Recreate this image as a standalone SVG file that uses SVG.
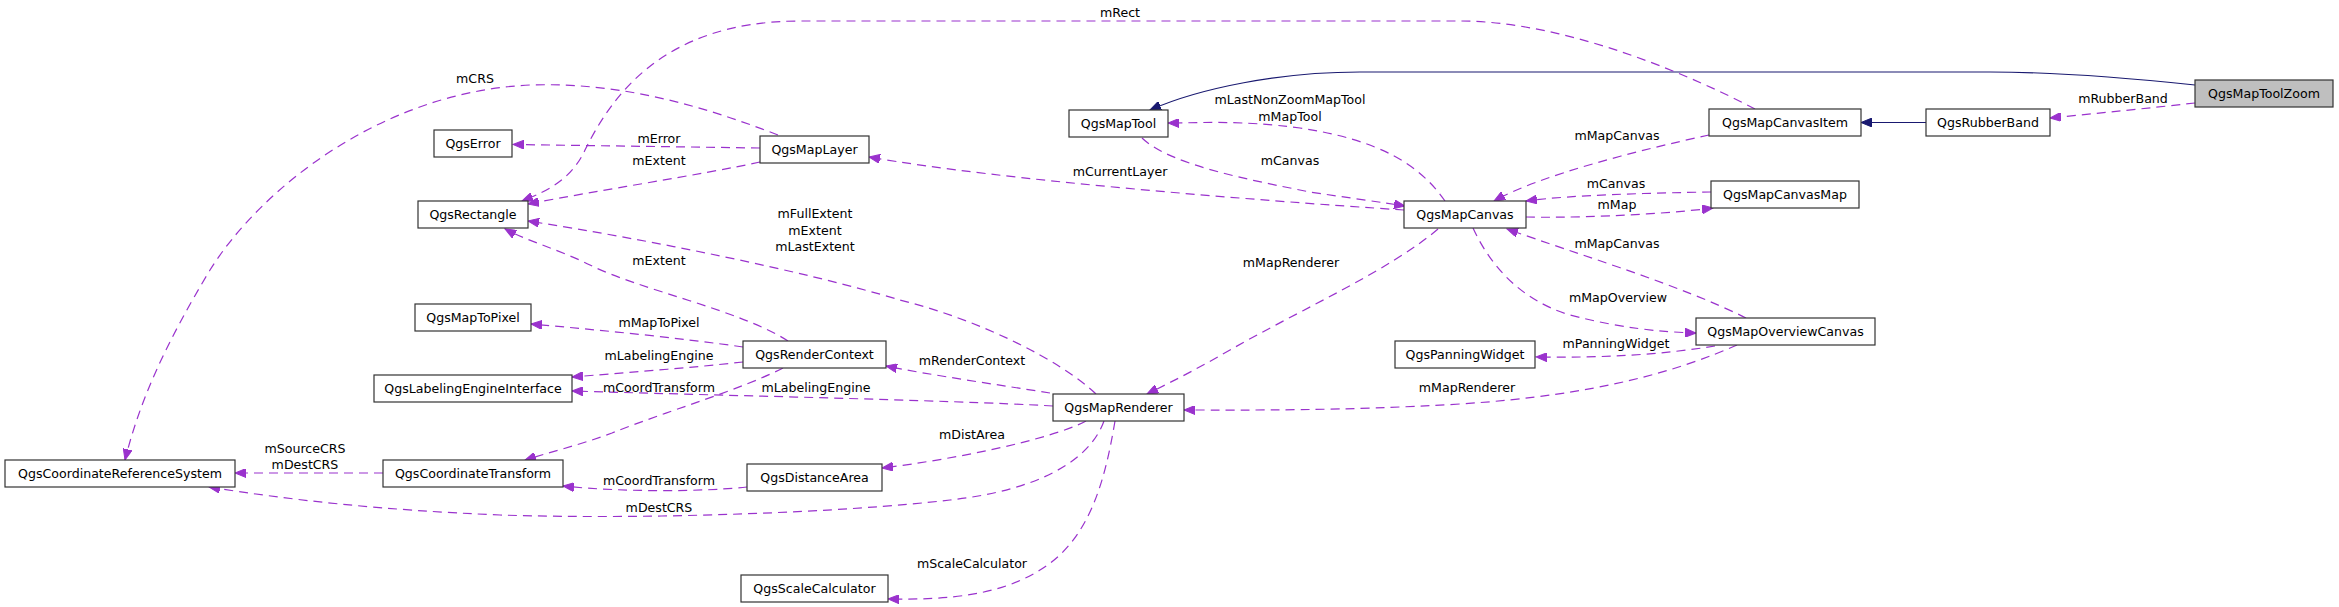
<svg xmlns="http://www.w3.org/2000/svg" width="2339" height="607" viewBox="0 0 2339 607">
<style>
.n rect{fill:#fff;stroke:#333;stroke-width:1.2}
.n text,.l{font-family:"DejaVu Sans",sans-serif;font-size:12.6px;fill:#000}
.n text{text-anchor:middle}
.l{text-anchor:middle}
.d{fill:none;stroke:#9a32cd;stroke-width:1.2;stroke-dasharray:9,6;marker-end:url(#pa)}
.i{fill:none;stroke:#191970;stroke-width:1.2;marker-end:url(#na)}
</style>
<defs>
<marker id="pa" markerUnits="userSpaceOnUse" markerWidth="12" markerHeight="9" refX="11" refY="4.5" orient="auto"><path d="M0,0 L11,4.5 L0,9 z" fill="#9a32cd" stroke="#9a32cd"/></marker>
<marker id="na" markerUnits="userSpaceOnUse" markerWidth="12" markerHeight="9" refX="11" refY="4.5" orient="auto"><path d="M0,0 L11,4.5 L0,9 z" fill="#191970" stroke="#191970"/></marker>
</defs>
<rect width="2339" height="607" fill="#fff"/>
<g id="connectors">
<path class="i" d="M2195,85 C2120,77 2040,72 1990,72 L1360,72 C1280,72 1200,88 1150,110"/>
<path class="i" d="M1926,122.5 L1861,122.5"/>
<path class="d" d="M2195,103 C2150,108 2100,113 2050,118"/>
<path class="d" d="M1755,109 C1700,80 1570,21 1460,21 L800,21 C660,21 610,100 585,150 C572,178 550,190 522,201"/>
<path class="d" d="M778,135 C700,105 620,82 530,85 C380,92 260,190 210,270 C165,345 140,400 125,460"/>
<path class="d" d="M760,148 L513,144.5"/>
<path class="d" d="M760,162 C700,175 600,190 528,204"/>
<path class="d" d="M1404,210 C1250,200 1000,180 869,157"/>
<path class="d" d="M1142,138 C1170,165 1250,180 1310,192 C1350,198 1380,202 1405,206"/>
<path class="d" d="M1445,201 C1420,165 1380,140 1300,128 C1240,120 1200,123 1168,123"/>
<path class="d" d="M1709,135 C1640,150 1540,175 1494,201"/>
<path class="d" d="M1711,192 C1650,193 1570,195 1526,201"/>
<path class="d" d="M1526,217 C1560,218 1650,216 1713,208"/>
<path class="d" d="M1746,318 C1680,285 1580,255 1507,229"/>
<path class="d" d="M1473,228 C1490,265 1520,300 1570,315 C1620,328 1660,332 1696,333"/>
<path class="d" d="M1715,346 C1660,355 1600,358 1536,357"/>
<path class="d" d="M1737,345 C1680,370 1600,395 1460,404 C1340,411 1250,410 1184,410"/>
<path class="d" d="M1438,229 C1390,270 1300,310 1230,350 C1190,373 1165,385 1147,394"/>
<path class="d" d="M1096,394 C1060,360 980,320 900,300 C800,270 650,240 528,221"/>
<path class="d" d="M788,341 C740,310 640,290 590,265 C560,250 525,240 505,229"/>
<path class="d" d="M743,347 C680,338 600,330 531,324"/>
<path class="d" d="M743,362 C690,368 620,373 572,377"/>
<path class="d" d="M783,368 C740,390 670,410 612,433 C580,445 550,452 525,460"/>
<path class="d" d="M1053,406 C950,400 700,395 572,391"/>
<path class="d" d="M1050,393 C1000,385 930,375 886,366"/>
<path class="d" d="M1086,421 C1050,440 950,460 882,468"/>
<path class="d" d="M747,487 C700,492 620,492 563,486"/>
<path class="d" d="M383,473 L235,473"/>
<path class="d" d="M1104,421 C1090,460 1040,490 950,500 C850,512 650,520 500,515 C380,510 290,500 209,487"/>
<path class="d" d="M1115,421 C1105,480 1090,540 1040,570 C1000,595 950,600 888,599"/>
</g>
<g id="labels">
<text class="l" x="2123" y="103">mRubberBand</text>
<text class="l" x="1120" y="17">mRect</text>
<text class="l" x="475" y="83">mCRS</text>
<text class="l" x="659" y="143">mError</text>
<text class="l" x="659" y="165">mExtent</text>
<text class="l" x="1120" y="176">mCurrentLayer</text>
<text class="l" x="1290" y="165">mCanvas</text>
<text class="l" x="1290" y="104">mLastNonZoomMapTool</text>
<text class="l" x="1290" y="121">mMapTool</text>
<text class="l" x="1617" y="140">mMapCanvas</text>
<text class="l" x="1616" y="188">mCanvas</text>
<text class="l" x="1617" y="209">mMap</text>
<text class="l" x="1617" y="248">mMapCanvas</text>
<text class="l" x="1618" y="302">mMapOverview</text>
<text class="l" x="1616" y="348">mPanningWidget</text>
<text class="l" x="1467" y="392">mMapRenderer</text>
<text class="l" x="1291" y="267">mMapRenderer</text>
<text class="l" x="815" y="218">mFullExtent</text>
<text class="l" x="815" y="235">mExtent</text>
<text class="l" x="815" y="251">mLastExtent</text>
<text class="l" x="659" y="265">mExtent</text>
<text class="l" x="659" y="327">mMapToPixel</text>
<text class="l" x="659" y="360">mLabelingEngine</text>
<text class="l" x="659" y="392">mCoordTransform</text>
<text class="l" x="816" y="392">mLabelingEngine</text>
<text class="l" x="972" y="365">mRenderContext</text>
<text class="l" x="972" y="439">mDistArea</text>
<text class="l" x="659" y="485">mCoordTransform</text>
<text class="l" x="305" y="453">mSourceCRS</text>
<text class="l" x="305" y="469">mDestCRS</text>
<text class="l" x="659" y="512">mDestCRS</text>
<text class="l" x="972" y="568">mScaleCalculator</text>
</g>
<g id="QgsMapToolZoom" class="n"><rect x="2195" y="80" width="138" height="27" style="fill:#bfbfbf"/><text x="2264" y="98">QgsMapToolZoom</text></g>
<g id="QgsRubberBand" class="n"><rect x="1926" y="109" width="124" height="27"/><text x="1988" y="127">QgsRubberBand</text></g>
<g id="QgsMapCanvasItem" class="n"><rect x="1709" y="109" width="152" height="27"/><text x="1785" y="127">QgsMapCanvasItem</text></g>
<g id="QgsMapTool" class="n"><rect x="1069" y="110" width="99" height="27"/><text x="1118.5" y="128">QgsMapTool</text></g>
<g id="QgsMapCanvasMap" class="n"><rect x="1711" y="181" width="148" height="27"/><text x="1785" y="199">QgsMapCanvasMap</text></g>
<g id="QgsMapCanvas" class="n"><rect x="1404" y="201" width="122" height="27"/><text x="1465" y="219">QgsMapCanvas</text></g>
<g id="QgsMapLayer" class="n"><rect x="760" y="136" width="109" height="27"/><text x="814.5" y="154">QgsMapLayer</text></g>
<g id="QgsError" class="n"><rect x="434" y="130" width="78" height="27"/><text x="473" y="148">QgsError</text></g>
<g id="QgsRectangle" class="n"><rect x="418" y="201" width="110" height="27"/><text x="473" y="219">QgsRectangle</text></g>
<g id="QgsMapToPixel" class="n"><rect x="415" y="304" width="116" height="27"/><text x="473" y="322">QgsMapToPixel</text></g>
<g id="QgsRenderContext" class="n"><rect x="743" y="341" width="143" height="27"/><text x="814.5" y="359">QgsRenderContext</text></g>
<g id="QgsLabelingEngineInterface" class="n"><rect x="374" y="375" width="198" height="27"/><text x="473" y="393">QgsLabelingEngineInterface</text></g>
<g id="QgsMapOverviewCanvas" class="n"><rect x="1696" y="318" width="179" height="27"/><text x="1785.5" y="336">QgsMapOverviewCanvas</text></g>
<g id="QgsPanningWidget" class="n"><rect x="1395" y="341" width="140" height="27"/><text x="1465" y="359">QgsPanningWidget</text></g>
<g id="QgsMapRenderer" class="n"><rect x="1053" y="394" width="131" height="27"/><text x="1118.5" y="412">QgsMapRenderer</text></g>
<g id="QgsCoordinateReferenceSystem" class="n"><rect x="5" y="460" width="230" height="27"/><text x="120" y="478">QgsCoordinateReferenceSystem</text></g>
<g id="QgsCoordinateTransform" class="n"><rect x="383" y="460" width="180" height="27"/><text x="473" y="478">QgsCoordinateTransform</text></g>
<g id="QgsDistanceArea" class="n"><rect x="747" y="464" width="135" height="27"/><text x="814.5" y="482">QgsDistanceArea</text></g>
<g id="QgsScaleCalculator" class="n"><rect x="741" y="575" width="147" height="27"/><text x="814.5" y="593">QgsScaleCalculator</text></g>
</svg>
